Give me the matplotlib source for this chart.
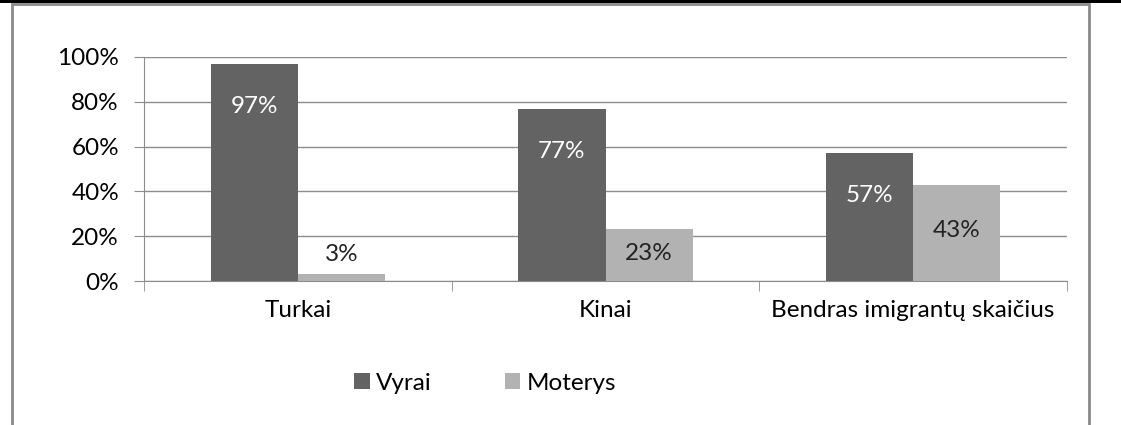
import matplotlib
matplotlib.use("Agg")
import matplotlib.pyplot as plt
from matplotlib.patches import Rectangle
import numpy as np

categories = ["Turkai", "Kinai", "Bendras imigrantų skaičius"]
vyrai = [0.97, 0.77, 0.57]
moterys = [0.03, 0.23, 0.43]
series_names = ["Vyrai", "Moterys"]
yticks = [0, 0.2, 0.4, 0.6, 0.8, 1.0]

dark = "#636363"
light = "#b2b2b2"
grid_c = "#8c8c8c"
fs = 17.5

plt.rcParams["font.family"] = ["Lato", "DejaVu Sans"]

fig = plt.figure(figsize=(11.21, 4.25), dpi=100)
fig.patch.set_facecolor("white")

# outer frame of the embedded chart and the black rule at top
fig.patches.append(Rectangle((12 / 1121, -0.1), (1089 - 12) / 1121, 1.1 - 4 / 425,
                             transform=fig.transFigure, fill=False,
                             edgecolor="#8a8a8a", linewidth=2))
fig.patches.append(Rectangle((0, 1 - 3 / 425), 1, 3 / 425, transform=fig.transFigure,
                             facecolor="black", edgecolor="none"))

ax = fig.add_axes([144 / 1121, 1 - 281 / 425, (1067 - 144) / 1121, (281 - 57) / 425])

x = np.arange(len(categories))
w = 0.283
b1 = ax.bar(x - w / 2, vyrai, w, color=dark, label=series_names[0], zorder=3)
b2 = ax.bar(x + w / 2, moterys, w, color=light, label=series_names[1], zorder=3)

for xi, v in zip(x, vyrai):
    ax.text(xi - w / 2, v - 0.19, f"{round(v * 100)}%", ha="center", va="center",
            color="white", fontsize=fs, zorder=4)
for xi, v in zip(x, moterys):
    ax.text(xi + w / 2, max(v / 2, 0.11) + 0.01, f"{round(v * 100)}%", ha="center",
            va="center", color="#222222", fontsize=fs, zorder=4)

ax.set_xlim(-0.5, len(categories) - 0.5)
ax.set_ylim(0, 1)
ax.set_yticks(yticks)
ax.set_yticklabels([f"{int(t * 100)}%" for t in yticks], fontsize=fs)
ax.yaxis.grid(True, color=grid_c, linewidth=1, zorder=0)
ax.tick_params(axis="y", length=7, color=grid_c, pad=11)

ax.set_xticks(x)
ax.set_xticklabels(categories, fontsize=fs)
ax.set_xticks(np.arange(-0.5, len(categories)), minor=True)
ax.tick_params(axis="x", which="major", length=0, pad=14)
ax.tick_params(axis="x", which="minor", length=7, color=grid_c)

for s in ["top", "right"]:
    ax.spines[s].set_visible(False)
for s in ["left", "bottom"]:
    ax.spines[s].set_color(grid_c)

fig.legend(handles=[b1, b2], loc="center", bbox_to_anchor=(485 / 1121, 1 - 383 / 425),
           ncol=2, frameon=False, fontsize=fs, handlelength=0.65, handleheight=0.65,
           handletextpad=0.25, columnspacing=3.0)

fig.savefig("out.png", dpi=100)
